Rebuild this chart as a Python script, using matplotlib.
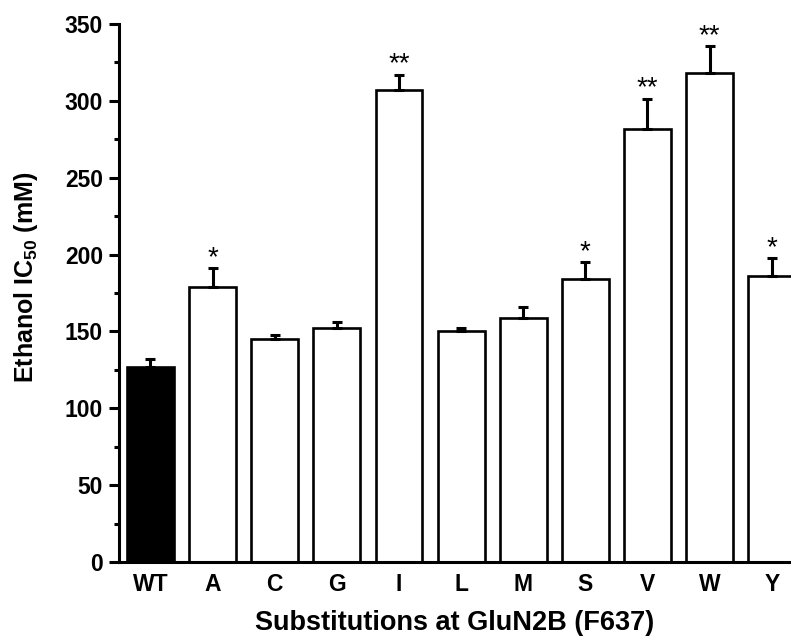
import numpy as np
import matplotlib
matplotlib.use("Agg")
import matplotlib.pyplot as plt

plt.rcParams['font.family'] = ['Liberation Sans', 'DejaVu Sans']
plt.rcParams['font.weight'] = 'bold'
plt.rcParams['mathtext.fontset'] = 'custom'
plt.rcParams['mathtext.bf'] = 'Liberation Sans:bold'
plt.rcParams['mathtext.rm'] = 'Liberation Sans:bold'

# IC50 per substitution (mM), mean and SEM
labels = ["WT", "A", "C", "G", "I", "L", "M", "S", "V", "W", "Y"]
ic50 = [127, 179, 145, 152, 307, 150, 159, 184, 282, 318, 186]
sem = [5, 12, 3, 4, 10, 2, 7, 11, 19.5, 17.5, 11.5]
stars = ["", "*", "", "", "**", "", "", "*", "**", "**", "*"]

W, H = 791, 641
fig = plt.figure(figsize=(W / 100, H / 100), dpi=100)
ax = fig.add_axes([119 / W, (H - 562) / H, (W - 119) / W, 538 / H])

x = np.arange(len(labels))
colors = ["black"] + ["white"] * (len(labels) - 1)
ax.bar(x, ic50, width=0.755, color=colors, edgecolor="black", linewidth=1.9, zorder=2)
ax.errorbar(x, ic50, yerr=[np.zeros(len(sem)), sem], fmt="none", ecolor="black",
            elinewidth=2.2, capsize=3.8, capthick=2.2, zorder=3)

for xi, v, e, s in zip(x, ic50, sem, stars):
    if s:
        ax.annotate(s, (xi, v + e), xytext=(0, -2), textcoords="offset points",
                    ha="center", va="bottom", fontsize=20, fontweight="normal")

ax.set_xlim(-0.507, 10.31)
ax.set_ylim(0, 350)
ax.set_yticks(np.arange(0, 351, 50))
ax.set_yticks(np.arange(25, 350, 50), minor=True)
ax.set_xticks(x)
ax.set_xticklabels(labels)

for side in ["top", "right"]:
    ax.spines[side].set_visible(False)
ax.spines["left"].set_linewidth(2.2)
ax.spines["bottom"].set_linewidth(2.2)

ax.tick_params(axis="y", which="major", length=7.5, width=2.2, labelsize=16.5, pad=4)
ax.tick_params(axis="y", which="minor", length=3.8, width=2.2)
ax.tick_params(axis="x", length=0, labelsize=16.5, pad=8)

ax.set_xlabel("Substitutions at GluN2B (F637)", fontsize=19.5, fontweight="bold", labelpad=10)
ax.set_ylabel(r"Ethanol IC$\mathbf{_{50}}$ (mM)", fontsize=18, fontweight="bold")
ax.yaxis.set_label_coords(-0.117, 0.53)

fig.savefig("out.png", dpi=100)
